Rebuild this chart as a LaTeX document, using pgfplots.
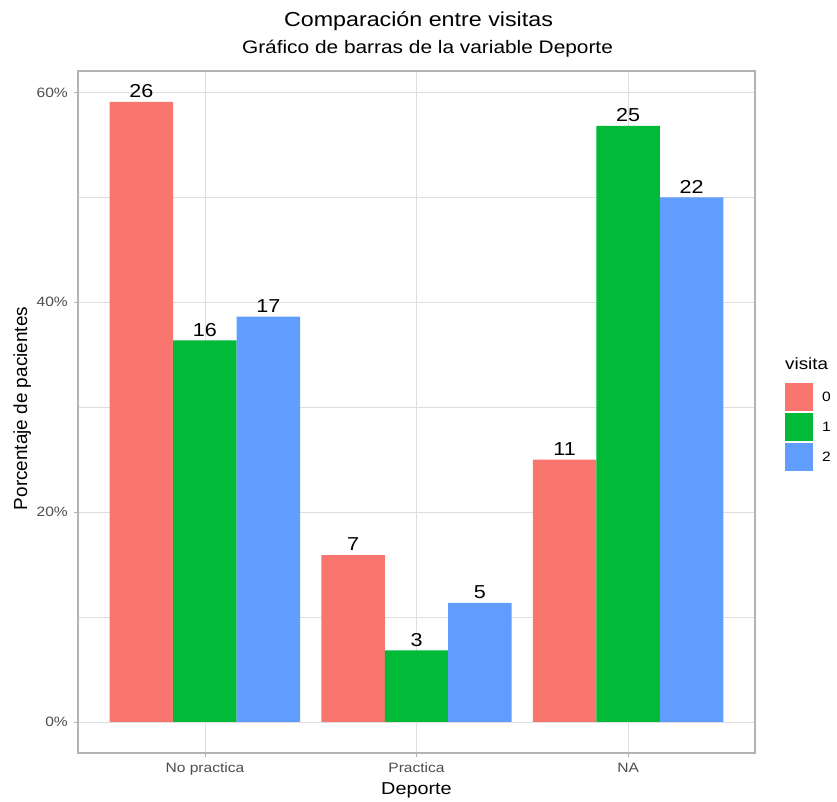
\documentclass[border=0pt]{standalone}
\usepackage{pgfplots}
\usepackage{pgfplotstable}
\pgfplotsset{compat=1.18}
\usepackage{fontspec}
\setmainfont{Liberation Sans}
\newfontfamily\wide[FakeStretch=1.15]{Liberation Sans}
\definecolor{c0}{HTML}{F8766D}
\definecolor{c1}{HTML}{00BA38}
\definecolor{c2}{HTML}{619CFF}
\definecolor{gridc}{HTML}{DEDEDE}
\definecolor{borderc}{HTML}{B3B3B3}
\definecolor{ticklab}{HTML}{4D4D4D}

% x = category position (1,2,3) shifted by the dodge offset of each visit
\pgfplotstableread{
x p n
0.7 59.09 26
1.7 15.91 7
2.7 25.00 11
}\visitaA
\pgfplotstableread{
x p n
1.0 36.36 16
2.0 6.82 3
3.0 56.82 25
}\visitaB
\pgfplotstableread{
x p n
1.3 38.64 17
2.3 11.36 5
3.3 50.00 22
}\visitaC

\begin{document}
\begin{tikzpicture}[x=1bp,y=1bp]
\useasboundingbox (0,0) rectangle (837,802);
\begin{axis}[
  at={(78bp,49bp)}, anchor=south west,
  scale only axis, width=677bp, height=682bp,
  xmin=0.4, xmax=3.6, ymin=-2.955, ymax=62.045,
  xtick={1,2,3}, xticklabels={No practica,Practica,NA},
  ytick={0,20,40,60}, yticklabels={0\%,20\%,40\%,60\%},
  minor ytick={10,30,50},
  grid=both,
  major grid style={gridc, line width=0.85bp},
  minor grid style={gridc, line width=0.45bp},
  axis line style={borderc, line width=1.3bp},
  tick align=outside, tick pos=left,
  major tick length=4bp, minor tick length=0bp,
  major tick style={borderc, line width=0.85bp},
  minor tick style={draw=none},
  xticklabel style={font=\wide\fontsize{13.6}{16}\selectfont, text=ticklab, anchor=north, inner sep=0pt, text height=10bp, yshift=-5bp},
  yticklabel style={font=\wide\fontsize{13.6}{16}\selectfont, text=ticklab, anchor=east, inner sep=0pt, xshift=-6bp},
  legend style={at={(1.0443,0.5425)}, anchor=north west, draw=none, fill=none, inner sep=0pt,
     row sep=2bp, font=\wide\fontsize{13.6}{16}\selectfont, nodes={inner sep=0pt},
     /tikz/every odd column/.append style={column sep=9bp}},
  legend cell align=left,
  mybar/.style={ybar, bar width=0.3, bar shift=0, draw=none,
     legend image code/.code={\fill[##1] (0bp,-14bp) rectangle (28bp,14bp);},
     nodes near coords={\pgfplotspointmeta}, point meta=explicit symbolic,
     every node near coord/.append style={font=\wide\fontsize{18.8}{20}\selectfont, text=black, anchor=south, inner sep=0pt, yshift=4bp}},
]
\addplot[mybar, fill=c0] table[x=x, y=p, meta=n] {\visitaA};
\addplot[mybar, fill=c1] table[x=x, y=p, meta=n] {\visitaB};
\addplot[mybar, fill=c2] table[x=x, y=p, meta=n] {\visitaC};
\legend{0,1,2}
\end{axis}
\node[anchor=base, font=\wide\fontsize{20.3}{24}\selectfont] at (418.5,775.3) {Comparación entre visitas};
\node[anchor=base, font=\wide\fontsize{18.2}{20}\selectfont] at (427.5,748.7) {Gráfico de barras de la variable Deporte};
\node[anchor=base, font=\wide\fontsize{17.3}{20}\selectfont] at (416.5,7) {Deporte};
\node[anchor=base, rotate=90, font=\fontsize{19}{22}\selectfont] at (27,393.5) {Porcentaje de pacientes};
\node[anchor=base west, inner sep=0pt, font=\wide\fontsize{16.4}{20}\selectfont] at (785,432) {visita};
\end{tikzpicture}
\end{document}
